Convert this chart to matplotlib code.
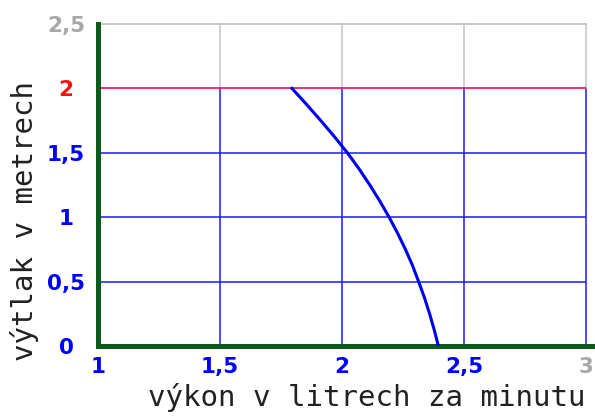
import matplotlib.pyplot as plt

# odečtené body křivky čerpadla (krok 0,125 m)
vytlak = [2.0, 1.875, 1.75, 1.625, 1.5, 1.375, 1.25, 1.125, 1.0,
          0.875, 0.75, 0.625, 0.5, 0.375, 0.25, 0.125, 0.0]
vykon = [1.795, 1.855, 1.913, 1.969, 2.022, 2.070, 2.114, 2.155, 2.193,
         2.228, 2.260, 2.289, 2.314, 2.338, 2.359, 2.378, 2.395]

x_ticks = [1, 1.5, 2, 2.5, 3]
x_labels = ['1', '1,5', '2', '2,5', '3']
y_ticks = [0, 0.5, 1, 1.5, 2, 2.5]
y_labels = ['0', '0,5', '1', '1,5', '2', '2,5']

BLUE = '#1a1aff'
GRAY = '#c4c4c4'
GREEN = '#0b5a1c'

fig = plt.figure(figsize=(5.95, 4.18), dpi=100)
ax = fig.add_axes([98 / 595, 1 - 346 / 418, 488 / 595, 322 / 418])
ax.set_xlim(1, 3)
ax.set_ylim(0, 2.5)

# mřížka: modrá pod 2 m, šedá nad
for x in x_ticks[1:]:
    ax.plot([x, x], [0, 2], color=BLUE, lw=1.1, zorder=1, clip_on=False)
    ax.plot([x, x], [2, 2.5], color=GRAY, lw=1.1, zorder=1, clip_on=False)
for y in [0.5, 1, 1.5]:
    ax.axhline(y, color=BLUE, lw=1.1, zorder=1)
ax.axhline(2, color='#e4235a', lw=1.3, zorder=2)
ax.plot([1, 3], [2.5, 2.5], color=GRAY, lw=1.3, zorder=1, clip_on=False)

ax.plot(vykon, vytlak, color='#0000ee', lw=2.2, zorder=3)

for s in ['top', 'right']:
    ax.spines[s].set_visible(False)
for s in ['left', 'bottom']:
    ax.spines[s].set_color(GREEN)
    ax.spines[s].set_linewidth(3.6)
ax.plot([2.9, 3.04], [0, 0], color=GREEN, lw=3.6, clip_on=False, zorder=4,
        solid_capstyle='butt')

ax.set_xticks(x_ticks)
ax.set_xticklabels(x_labels)
ax.set_yticks(y_ticks)
ax.set_yticklabels(y_labels)
ax.tick_params(length=0)
ax.tick_params(axis='x', pad=8)
ax.tick_params(axis='y', pad=23)
for lab in ax.get_xticklabels() + ax.get_yticklabels():
    lab.set_fontweight('bold')
    lab.set_fontsize(15.5)
    lab.set_color('#0000ff')
for lab in ax.get_yticklabels():
    lab.set_horizontalalignment('center')
ax.get_yticklabels()[4].set_color('#ff1010')
ax.get_yticklabels()[5].set_color('#a8a8a8')
ax.get_xticklabels()[4].set_color('#a8a8a8')

fig.text(367 / 595, 1 - 397 / 418, 'výkon v litrech za minutu', family='DejaVu Sans Mono',
         fontsize=21, color='#222222', ha='center', va='center')
fig.text(25 / 595, 1 - 221 / 418, 'výtlak v metrech', family='DejaVu Sans Mono',
         fontsize=21, color='#222222', ha='center', va='center', rotation=90)

fig.savefig('out.png', dpi=100)
